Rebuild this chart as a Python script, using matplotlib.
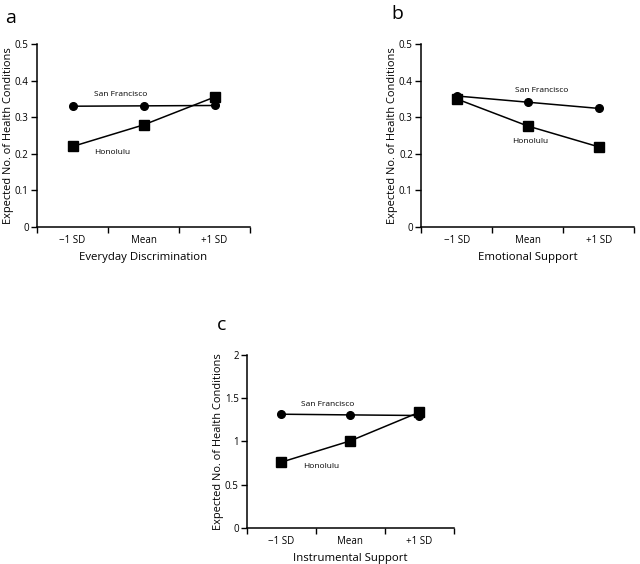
import numpy as np
import matplotlib.pyplot as plt

plt.rcParams['font.family'] = ['Open Sans', 'DejaVu Sans']

# category labels
conds = ['\u22121 SD', 'Mean', '+1 SD']

# panel a: everyday discrimination
a_sf = [0.330, 0.331, 0.332]
a_hon = [0.220, 0.279, 0.355]

# panel b: emotional support
b_sf = [0.358, 0.341, 0.324]
b_hon = [0.350, 0.276, 0.219]

# panel c: instrumental support
c_sf = [1.315, 1.307, 1.300]
c_hon = [0.761, 1.007, 1.338]

ylab = 'Expected No. of Health Conditions'

fig = plt.figure(figsize=(6.4, 5.64), dpi=100)

def panel(rect, sf, hon, xlabel, ymax, ystep, yfmt, letter, letter_xy,
          sf_lab, hon_lab):
    ax = fig.add_axes(rect)
    x = np.arange(len(conds))
    ax.plot(x, sf, color='black', lw=1.1, marker='o', ms=5.5, zorder=3)
    ax.plot(x, hon, color='black', lw=1.1, marker='s', ms=7, zorder=3)
    ax.set_xlim(-0.5, 2.5)
    ax.set_ylim(0, ymax)
    yt = np.arange(0, ymax + ystep / 2, ystep)
    ax.set_yticks(yt)
    ax.set_yticklabels([yfmt(v) for v in yt], fontsize=7)
    ax.set_xticks(x)
    ax.set_xticklabels(conds, fontsize=7)
    ax.tick_params(axis='x', length=0, pad=6)
    ax.set_xticks([-0.5, 0.5, 1.5, 2.5], minor=True)
    ax.tick_params(axis='x', which='minor', length=4, width=1)
    ax.tick_params(axis='y', length=4, width=1, pad=2)
    for s in ['top', 'right']:
        ax.spines[s].set_visible(False)
    for s in ['left', 'bottom']:
        ax.spines[s].set_linewidth(1.1)
    ax.set_xlabel(xlabel, fontsize=8.2, labelpad=4)
    ax.set_ylabel(ylab, fontsize=7.9, labelpad=0.5)
    ax.text(sf_lab[0], sf_lab[1], 'San Francisco', fontsize=6,
            ha='center', va='center')
    ax.text(hon_lab[0], hon_lab[1], 'Honolulu', fontsize=6,
            ha='center', va='center')
    fig.text(letter_xy[0], letter_xy[1], letter, fontsize=14,
             ha='left', va='center')
    return ax

f1 = lambda v: '0' if v == 0 else '%.1f' % v
f2 = lambda v: '%g' % v

panel([0.0578, 0.5975, 0.333, 0.3245], a_sf, a_hon, 'Everyday Discrimination',
      0.5, 0.1, f1, 'a', (0.008, 0.968), (0.68, 0.362), (0.56, 0.203))
panel([0.658, 0.5975, 0.333, 0.3245], b_sf, b_hon, 'Emotional Support',
      0.5, 0.1, f1, 'b', (0.612, 0.975), (1.2, 0.374), (1.04, 0.233))
panel([0.386, 0.0640, 0.323, 0.3066], c_sf, c_hon, 'Instrumental Support',
      2, 0.5, f2, 'c', (0.339, 0.424), (0.67, 1.43), (0.58, 0.71))

fig.savefig('out.png', dpi=100)
